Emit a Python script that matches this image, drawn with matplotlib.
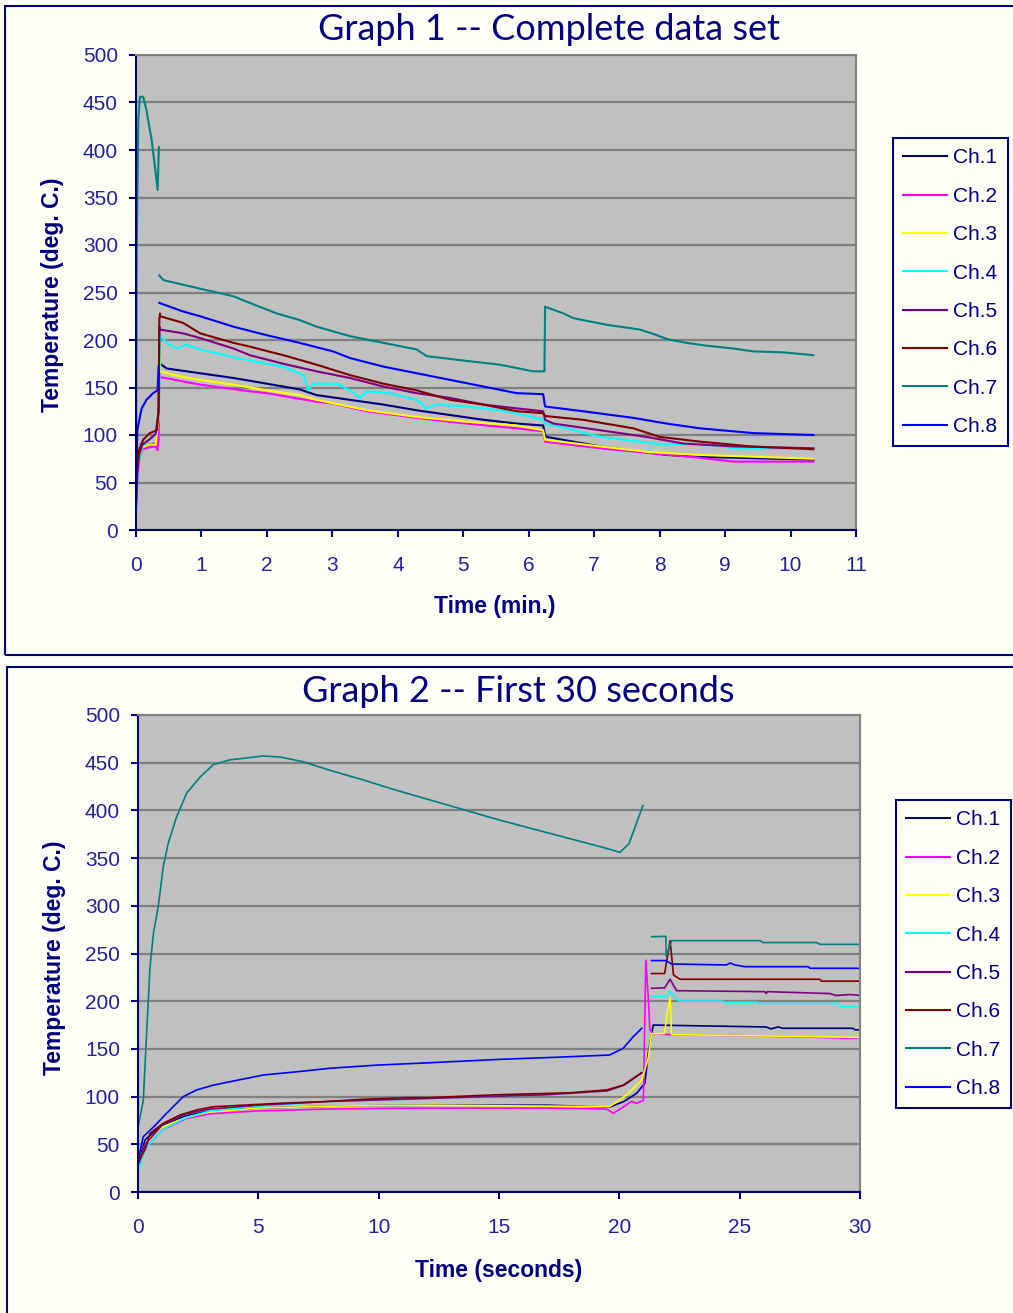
import matplotlib
matplotlib.use('Agg')
import matplotlib.pyplot as plt
from matplotlib.patches import Rectangle
import numpy as np

nan = np.nan
labels = ['Ch.1', 'Ch.2', 'Ch.3', 'Ch.4', 'Ch.5', 'Ch.6', 'Ch.7', 'Ch.8']
colors = ['#000080', '#FF00FF', '#FFFF00', '#00FFFF', '#800080', '#800000', '#008080', '#0000FF']

# ---- Graph 1: complete data set (minutes) ----
t1_ch1 = [0, 0.02, 0.05, 0.1, 0.2, 0.3, 0.34, 0.352, 0.357, 0.367, 0.47, 0.98, 1.49, 2.0, 2.5, 2.76, 3.27, 3.78, 4.29, 4.8, 5.31, 5.82, 6.22, 6.25, 6.27, 7.09, 8.11, 8.62, 10.35]
v1_ch1 = [28, 60, 78, 87, 90, 91, 105, 140, 172, 175, 170, 165, 160, 154, 148, 142, 137, 132, 126, 121, 116, 112, 110, 100, 98, 88, 79, 77, 74]
t1_ch2 = [0, 0.02, 0.05, 0.1, 0.2, 0.3, 0.33, 0.345, 0.352, 0.36, 0.367, 0.98, 1.74, 2.0, 2.76, 3.01, 3.53, 4.29, 5.05, 5.82, 6.22, 6.25, 7.09, 7.85, 8.62, 9.13, 10.35]
v1_ch2 = [25, 55, 75, 85, 87, 88, 84, 96, 165, 170, 161, 153, 146, 144, 135, 133, 125, 118, 112, 107, 104, 93, 86, 81, 76, 72, 72]
t1_ch3 = [0, 0.02, 0.05, 0.1, 0.2, 0.3, 0.345, 0.357, 0.367, 0.368, 0.72, 0.98, 1.49, 2.0, 2.5, 2.76, 3.53, 4.29, 5.05, 5.82, 6.22, 6.25, 7.09, 7.85, 8.62, 10.35]
v1_ch3 = [28, 58, 77, 87, 90, 90, 117, 166, 200, 167, 161, 158, 153, 147, 142, 137, 126, 119, 114, 110, 105, 95, 88, 82, 79, 75]
t1_ch4 = [0, 0.02, 0.05, 0.1, 0.2, 0.3, 0.345, 0.367, 0.47, 0.62, 0.77, 0.98, 1.49, 2.0, 2.25, 2.56, 2.63, 2.71, 3.07, 3.27, 3.42, 3.53, 3.88, 4.29, 4.44, 4.59, 5.05, 5.56, 5.92, 6.22, 6.25, 6.58, 7.09, 8.06, 8.62, 9.13, 10.35]
v1_ch4 = [22, 55, 75, 88, 95, 101, 125, 205, 197, 191, 195, 190, 182, 175, 172, 163, 147, 154, 154, 147, 139, 146, 144, 137, 128, 132, 130, 126, 121, 116, 112, 107, 98, 90, 91, 86, 85]
t1_ch5 = [0, 0.02, 0.05, 0.1, 0.2, 0.3, 0.345, 0.357, 0.367, 0.72, 0.98, 1.49, 1.74, 2.25, 2.76, 3.27, 3.78, 4.29, 4.8, 5.31, 5.82, 6.22, 6.25, 6.38, 7.09, 7.8, 8.36, 9.13, 10.35]
v1_ch5 = [28, 58, 80, 90, 95, 101, 125, 214, 211, 207, 202, 191, 184, 175, 167, 160, 151, 144, 139, 132, 128, 125, 116, 112, 105, 98, 91, 88, 86]
t1_ch6 = [0, 0.02, 0.05, 0.11, 0.21, 0.32, 0.345, 0.357, 0.367, 0.37, 0.72, 0.98, 1.49, 1.74, 2.25, 2.76, 3.27, 3.78, 4.29, 4.8, 5.31, 5.82, 6.22, 6.25, 6.83, 7.6, 8.0, 8.62, 9.39, 10.35]
v1_ch6 = [30, 70, 85, 95, 102, 105, 125, 222, 228, 225, 218, 207, 197, 193, 184, 174, 163, 154, 147, 137, 132, 125, 123, 120, 116, 107, 98, 93, 88, 85]
t1_ch7 = [0, 0.01, 0.035, 0.06, 0.11, 0.16, 0.24, 0.29, 0.33, 0.35, 0.352, 0.355, 0.42, 0.98, 1.49, 1.74, 2.15, 2.5, 2.76, 3.27, 3.78, 4.29, 4.44, 5.05, 5.56, 6.07, 6.24, 6.25, 6.53, 6.68, 7.19, 7.7, 7.96, 8.11, 8.41, 8.72, 9.13, 9.43, 9.89, 10.35]
v1_ch7 = [70, 291, 431, 456, 456, 442, 410, 382, 358, 403, nan, 268, 263, 254, 246, 239, 228, 221, 214, 204, 197, 190, 183, 178, 174, 167, 167, 235, 228, 223, 216, 211, 205, 201, 197, 194, 191, 188, 187, 184]
t1_ch8 = [0, 0.02, 0.05, 0.087, 0.16, 0.26, 0.33, 0.345, 0.352, 0.357, 0.72, 0.98, 1.49, 2.0, 2.5, 3.01, 3.27, 3.78, 4.29, 4.8, 5.31, 5.82, 6.22, 6.25, 6.83, 7.6, 8.11, 8.62, 9.43, 10.35]
v1_ch8 = [25, 105, 116, 128, 137, 144, 147, 172, nan, 239, 230, 225, 214, 205, 197, 188, 181, 172, 165, 158, 151, 144, 143, 130, 125, 118, 112, 107, 102, 100]

# ---- Graph 2: first 30 seconds ----
t2_ch1 = [0, 0.3, 1, 2, 3, 5, 8, 12, 17, 19.6, 20.2, 20.72, 21.06, 21.2, 21.34, 21.41, 26.1, 26.3, 26.6, 26.8, 29.7, 29.8, 30]
v2_ch1 = [30, 55, 70, 80, 85, 88, 90, 91, 91, 89, 95, 103.5, 114, 145, 165, 175, 173, 171, 173, 171.6, 171.6, 170, 170]
t2_ch2 = [0, 0.3, 1, 2, 3, 5, 8, 12, 17, 19.47, 19.75, 20.16, 20.5, 20.72, 21.0, 21.1, 21.2, 21.27, 21.41, 22, 25, 30]
v2_ch2 = [25, 45, 65, 77, 82, 85, 87, 88, 88, 87, 82.5, 89, 95, 93, 96, 243, 205, 170, 166, 165, 164, 161]
t2_ch3 = [0, 0.3, 1, 2, 3, 5, 8, 12, 17, 19.6, 20.3, 20.93, 21.2, 21.34, 21.88, 22.0, 22.11, 22.17, 25, 30]
v2_ch3 = [28, 50, 68, 78, 84, 88, 90, 91, 90, 89.5, 101.7, 117, 140, 166, 166, 190, 203, 165, 164, 162]
t2_ch4 = [0, 0.3, 1, 2, 3, 5, 8, 12, 17, 19.5, 20.2, 20.93, 21.1, 21.34, 21.93, 22.11, 22.38, 22.5, 24.3, 24.35, 25.7, 25.8, 29.1, 29.2, 30]
v2_ch4 = [22, 45, 65, 78, 85, 90, 95, 98, 102, 106, 112, 125, nan, 205, 205, 210, 202, 200, 200, 199, 199, 197.5, 197.5, 194.5, 194.5]
t2_ch5 = [0, 0.3, 1, 2, 3, 5, 8, 12, 17, 19.5, 20.2, 20.93, 21.1, 21.34, 21.88, 22.11, 22.38, 26.05, 26.1, 26.15, 28.75, 29.0, 29.6, 30]
v2_ch5 = [28, 50, 70, 82, 87, 91, 95, 98, 102, 106, 112, 125, nan, 213.5, 214, 223, 211, 210, 208, 210, 208, 206, 207, 206]
t2_ch6 = [0, 0.3, 0.5, 1.05, 1.74, 2.44, 3.13, 4.51, 5.9, 7.7, 9.36, 11.16, 12.13, 15, 17.95, 19.47, 20.16, 20.93, 21.1, 21.34, 21.88, 22.11, 22.25, 22.52, 28.33, 28.4, 30]
v2_ch6 = [30, 45, 61.5, 72, 80.7, 86, 89.4, 91.2, 93, 94.7, 97.2, 98.9, 99, 102, 104, 107, 112, 125, nan, 229, 229, 263.5, 227.5, 223, 223, 221, 221]
t2_ch7 = [0, 0.22, 0.36, 0.5, 0.64, 0.84, 1.05, 1.26, 1.6, 2.02, 2.58, 3.13, 3.82, 5.2, 5.9, 6.86, 7.98, 9.35, 10.75, 12.13, 15.0, 18.0, 19.5, 20.02, 20.4, 20.98, 21.15, 21.34, 21.93, 21.95, 22.17, 25.84, 25.97, 28.2, 28.33, 30]
v2_ch7 = [68, 96, 167, 236, 271, 299, 341, 366, 393, 418, 435, 448, 453, 457, 456, 451, 442, 432, 421, 411, 390, 370, 360, 356, 365, 405, nan, 267.6, 268, 247, 263.5, 263.5, 261.5, 261.5, 259.6, 259.6]
t2_ch8 = [0, 0.22, 0.64, 1.19, 1.88, 2.44, 3.13, 3.82, 5.2, 6.59, 7.98, 9.92, 12.13, 15, 17.95, 19.6, 20.16, 20.58, 20.93, 21.1, 21.34, 21.93, 22.17, 24.45, 24.6, 24.8, 25.22, 27.85, 27.92, 30]
v2_ch8 = [33, 58, 68, 82.5, 100, 107, 112, 115.6, 122.6, 126, 129.7, 133, 135.5, 139, 141.8, 143.6, 150.6, 162.8, 171.6, nan, 242.6, 242.6, 239, 238, 240, 238, 236.2, 236.2, 234.5, 234.5]

graph1 = [(t1_ch1, v1_ch1), (t1_ch2, v1_ch2), (t1_ch3, v1_ch3), (t1_ch4, v1_ch4),
          (t1_ch5, v1_ch5), (t1_ch6, v1_ch6), (t1_ch7, v1_ch7), (t1_ch8, v1_ch8)]
graph2 = [(t2_ch1, v2_ch1), (t2_ch2, v2_ch2), (t2_ch3, v2_ch3), (t2_ch4, v2_ch4),
          (t2_ch5, v2_ch5), (t2_ch6, v2_ch6), (t2_ch7, v2_ch7), (t2_ch8, v2_ch8)]

navy = '#000080'
tick_col = '#22229a'
bg = '#FFFFF7'
W, H = 1013, 1313

fig = plt.figure(figsize=(W / 100, H / 100), dpi=100, facecolor=bg)

# panel borders
fig.patches.append(Rectangle((5 / W, 1 - 655 / H), 1.02, (655 - 6) / H, transform=fig.transFigure,
                             fill=False, edgecolor=navy, lw=1.5))
fig.patches.append(Rectangle((7 / W, -0.01), 1.02, 1 - 667 / H + 0.01, transform=fig.transFigure,
                             fill=False, edgecolor=navy, lw=1.5))


def make_panel(rect, series, xmax, xticks, lw, title, title_xy, xlabel, xlabel_xy, ylabel_xy, leg_xy):
    ax = fig.add_axes(rect)
    ax.set_facecolor('#C0C0C0')
    for (t, v), c, lab in zip(series, colors, labels):
        ax.plot(t, v, color=c, lw=lw, label=lab)
    ax.set_xlim(0, xmax)
    ax.set_ylim(0, 500)
    ax.set_yticks(range(0, 501, 50))
    ax.set_xticks(xticks)
    ax.yaxis.grid(True, color='#808080', lw=1.6)
    ax.set_axisbelow(True)
    for s in ['left', 'bottom']:
        ax.spines[s].set_color(navy)
        ax.spines[s].set_linewidth(1.5)
    for s in ['top', 'right']:
        ax.spines[s].set_color('#808080')
        ax.spines[s].set_linewidth(1.5)
    ax.tick_params(direction='out', length=5, width=1.5, color=navy, labelcolor=tick_col,
                   labelsize=15)
    ax.tick_params(axis='y', pad=8)
    ax.tick_params(axis='x', pad=14)
    for lbl in ax.get_xticklabels() + ax.get_yticklabels():
        lbl.set_fontfamily('Liberation Sans')
    fig.text(title_xy[0] / W, 1 - title_xy[1] / H, title, ha='center', va='center',
             fontsize=26, color=navy, family='Lato')
    fig.text(xlabel_xy[0] / W, 1 - xlabel_xy[1] / H, xlabel, ha='center', va='center',
             fontsize=16.5, color=navy, weight='bold', family='Liberation Sans')
    fig.text(ylabel_xy[0] / W, 1 - ylabel_xy[1] / H, 'Temperature (deg. C.)', ha='center', va='center',
             rotation=90, fontsize=16.5, color=navy, weight='bold', family='Liberation Sans')
    leg = ax.legend(loc='upper left', bbox_to_anchor=(leg_xy[0] / W, 1 - leg_xy[1] / H),
                    bbox_transform=fig.transFigure, borderaxespad=0, frameon=True, fancybox=False,
                    edgecolor=navy, facecolor=bg, framealpha=1, labelspacing=0.93,
                    handlelength=2.1, handletextpad=0.3, borderpad=0.5,
                    prop={'family': 'Liberation Sans', 'size': 15})
    leg.get_frame().set_linewidth(1.5)
    for txt in leg.get_texts():
        txt.set_color(navy)
    for h in leg.get_lines():
        h.set_linewidth(1.5)
    return ax


make_panel([136 / W, 1 - 530 / H, 720 / W, 475 / H], graph1, 11, range(0, 12), 1.5,
           'Graph 1 -- Complete data set', (549, 30), 'Time (min.)', (495, 606), (52, 295), (893, 138))
make_panel([138 / W, 1 - 1192 / H, 722 / W, 477 / H], graph2, 30, range(0, 31, 5), 1.2,
           'Graph 2 -- First 30 seconds', (518, 692), 'Time (seconds)', (499, 1270), (55, 958), (896, 800))

fig.savefig('out.png', dpi=100, facecolor=bg)
